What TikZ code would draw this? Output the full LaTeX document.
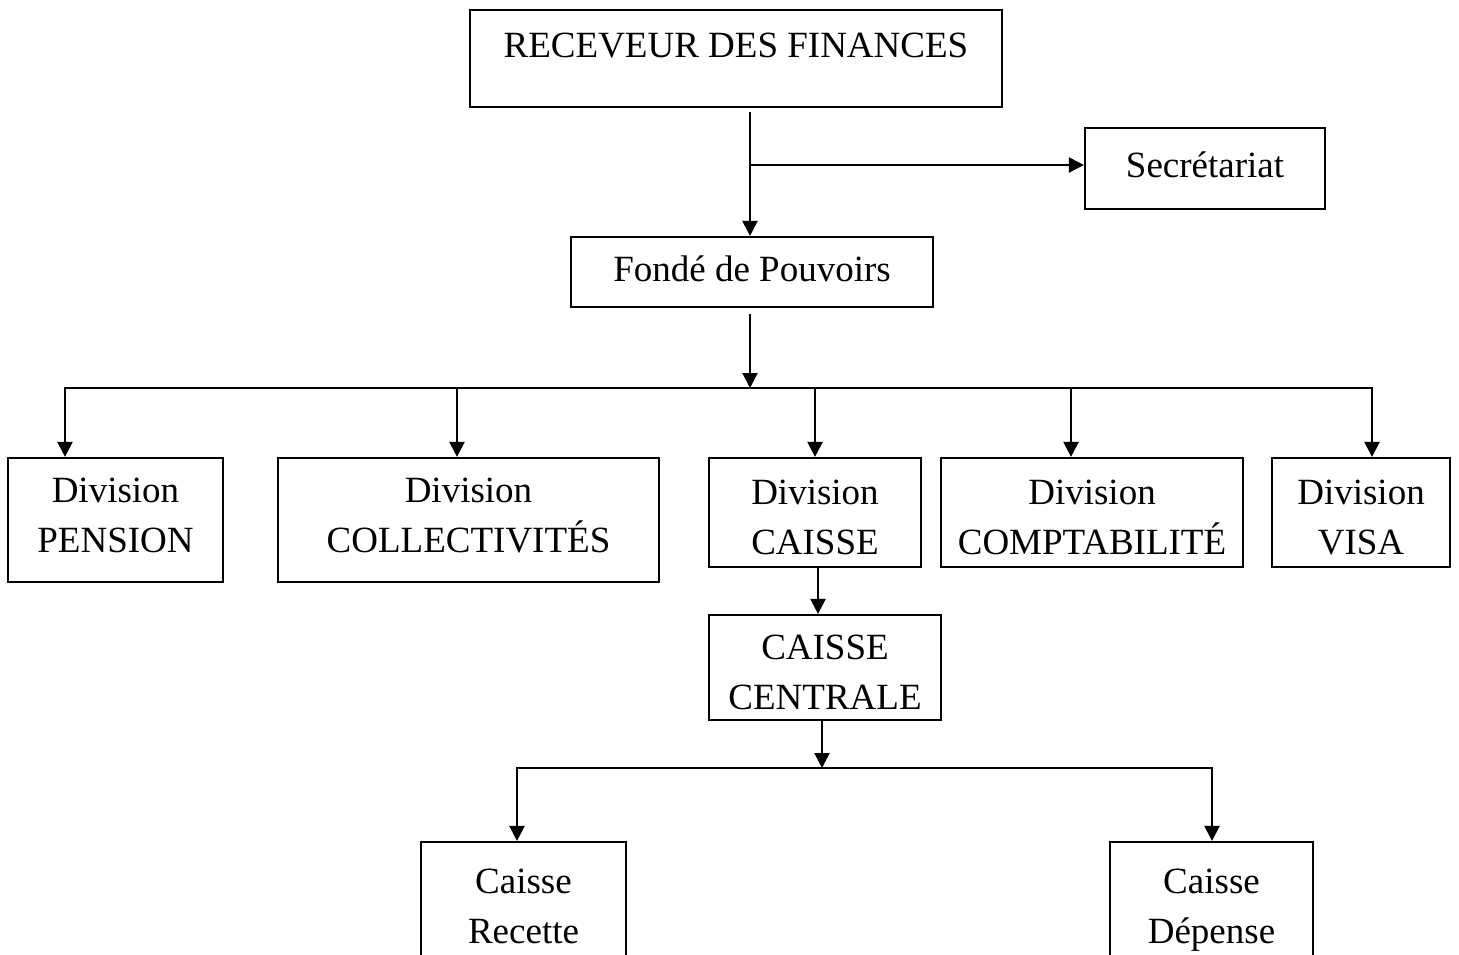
\documentclass[tikz,border=0pt]{standalone}
\usepackage{fontspec}
\setmainfont{Liberation Serif}
\usetikzlibrary{arrows.meta, positioning}

\begin{document}
\begin{tikzpicture}[x=0.5pt, y=-0.5pt, line width=1.1pt, >={Triangle[length=7.5pt,width=7.5pt]},
	box/.style={draw, align=center, inner sep=0pt, text height=13pt, text depth=4pt, font=\fontsize{18.5}{25}\selectfont},
	twoline/.style={box, text height=43pt, text depth=1pt}]

	\useasboundingbox (0,0) rectangle (1459,954);

	\node (rec) [box, minimum width=266pt, inner ysep=10.5pt, text depth=14.5pt] at (736,58.5) {RECEVEUR DES FINANCES};
	\node (sec) [box, minimum width=120pt, minimum height=40.5pt] at (1205,168.5) {Secrétariat};
	\node (fond) [box, minimum width=181pt, minimum height=35pt] at (752,272) {Fondé de Pouvoirs};

	\node (pen) [twoline, text depth=11pt, minimum width=107.5pt, minimum height=62pt] at (115.5,520) {Division\\PENSION};
	\node (col) [twoline, text depth=11pt, minimum width=190.5pt, minimum height=62pt] at (468.5,520) {Division\\COLLECTIVITÉS};
	\node (cai) [twoline, minimum width=106pt, minimum height=54.5pt] at (815,512.5) {Division\\CAISSE};
	\node (comp) [twoline, minimum width=151pt, minimum height=54.5pt] at (1092,512.5) {Division\\COMPTABILITÉ};
	\node (visa) [twoline, minimum width=89pt, minimum height=54.5pt] at (1361,512.5) {Division\\VISA};

	\node (cen) [twoline, minimum width=116pt, minimum height=52.5pt] at (825,667.5) {CAISSE\\CENTRALE};
	\node (rect) [twoline, minimum width=102.5pt, minimum height=59pt] at (523.5,901) {Caisse\\Recette};
	\node (dep) [twoline, minimum width=101.5pt, minimum height=59pt] at (1211.5,901) {Caisse\\Dépense};

	% points on the lines
	\coordinate (s) at (750,165);
	\coordinate (t) at (750,388);
	\coordinate (p1) at (65,388);
	\coordinate (p2) at (457,388);
	\coordinate (p3) at (815,388);
	\coordinate (p4) at (1071,388);
	\coordinate (p5) at (1372,388);
	\coordinate (u) at (822,768);
	\coordinate (q1) at (517,768);
	\coordinate (q2) at (1212,768);

	\path[->]
		(rec.south -| s) edge [shorten <=2pt] (fond.north -| s)
		(s) edge (s -| sec.west)
		(fond.south -| t) edge [shorten <=3pt] (t)

		(p2) edge (p2 |- col.north)
		(p3) edge (p3 |- cai.north)
		(p4) edge (p4 |- comp.north)

		([xshift=1.5pt]cai.south) edge ([xshift=1.5pt]cai.south |- cen.north)
		(cen.south -| u) edge (u);

	\draw[->] (t) -| (pen.north -| p1);
	\draw[->] (t) -| (visa.north -| p5);
	\draw[->] (u) -| (rect.north -| q1);
	\draw[->] (u) -| (dep.north -| q2);

\end{tikzpicture}
\end{document}
